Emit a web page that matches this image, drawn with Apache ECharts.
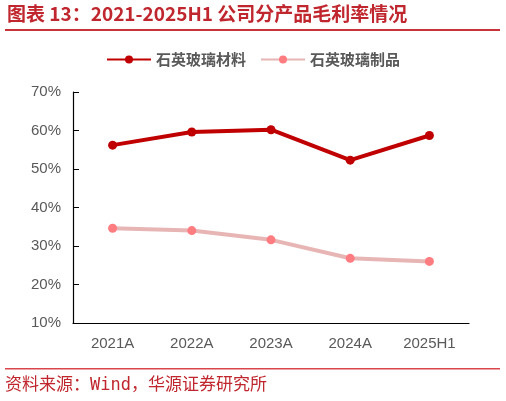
<!DOCTYPE html>
<html>
<head>
<meta charset="utf-8">
<script src="https://cdn.jsdelivr.net/npm/echarts@6/dist/echarts.min.js"></script>
<style>
html, body { margin: 0; padding: 0; background: #fff; }
#chart { width: 506px; height: 401px; }
</style>
</head>
<body>
<div id="chart"></div>
<script>
'use strict';

// 数据
var categories = ['2021A', '2022A', '2023A', '2024A', '2025H1'];
var materialMargin = [56.2, 59.6, 60.2, 52.3, 58.7];   // 石英玻璃材料
var productMargin = [34.6, 34.0, 31.6, 26.8, 26.0];    // 石英玻璃制品
var seriesNames = ['石英玻璃材料', '石英玻璃制品'];

var titleText = '图表 13：2021-2025H1 公司分产品毛利率情况';
var sourceText = '资料来源：Wind，华源证券研究所';

var myChart = echarts.init(document.getElementById('chart'));

var option = {
    animation: false,
    backgroundColor: '#fff',
    graphic: [{
        type: 'text',
        left: 7,
        top: 4,
        style: {
            text: titleText,
            fill: '#c0262d',
            font: 'bold 19px "Noto Sans CJK SC", sans-serif'
        }
    }, {
        type: 'rect',
        left: 5,
        top: 29,
        shape: { width: 495, height: 2 },
        style: { fill: '#c8343a' }
    }, {
        type: 'rect',
        left: 5,
        top: 368,
        shape: { width: 495, height: 1.5 },
        style: { fill: '#d9474c' }
    }, {
        type: 'text',
        left: 5,
        top: 377,
        style: {
            text: sourceText,
            fill: '#c0262d',
            font: '17px "DejaVu Sans Mono", "Noto Sans CJK SC", monospace'
        }
    }],
    legend: {
        top: 47,
        left: 'center',
        itemWidth: 44,
        itemHeight: 10,
        itemGap: 14,
        textStyle: {
            fontFamily: '"Noto Sans CJK SC", sans-serif',
            fontSize: 15,
            fontWeight: 'bold',
            color: '#595959'
        },
        data: seriesNames
    },
    grid: {
        left: 73,
        right: 37,
        top: 92,
        bottom: 78
    },
    xAxis: {
        type: 'category',
        data: categories,
        boundaryGap: true,
        axisLine: { lineStyle: { color: '#000', width: 1.2 } },
        axisTick: { inside: true, length: 6, lineStyle: { color: '#000' } },
        axisLabel: {
            color: '#595959',
            fontSize: 15,
            fontFamily: 'Arial, "Liberation Sans", sans-serif',
            margin: 13
        }
    },
    yAxis: {
        type: 'value',
        min: 10,
        max: 70,
        interval: 10,
        axisLine: { show: true, lineStyle: { color: '#000', width: 1.2 } },
        axisTick: { show: true, inside: true, length: 6, lineStyle: { color: '#000' } },
        splitLine: { show: false },
        axisLabel: {
            color: '#595959',
            fontSize: 15,
            fontFamily: 'Arial, "Liberation Sans", sans-serif',
            margin: 12,
            formatter: '{value}%'
        }
    },
    series: [{
        name: seriesNames[0],
        type: 'line',
        data: materialMargin,
        symbol: 'circle',
        symbolSize: 9,
        lineStyle: { color: '#c00000', width: 4 },
        itemStyle: { color: '#c00000' }
    }, {
        name: seriesNames[1],
        type: 'line',
        data: productMargin,
        symbol: 'circle',
        symbolSize: 9,
        lineStyle: { color: '#e8b5b5', width: 4 },
        itemStyle: { color: '#ff7c80' }
    }]
};

myChart.setOption(option);
</script>
</body>
</html>
